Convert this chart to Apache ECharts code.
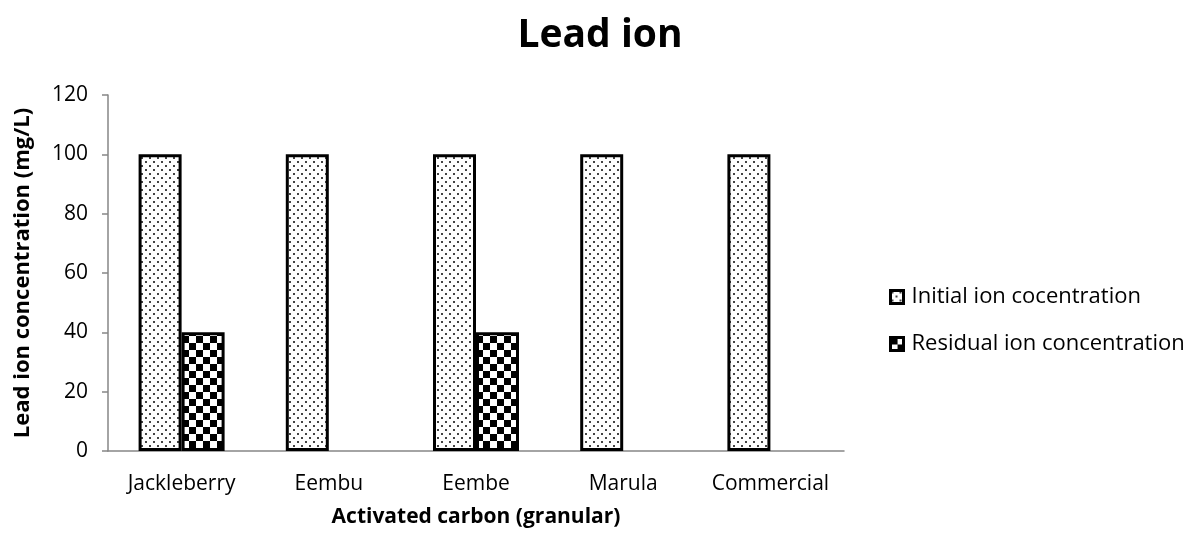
<!DOCTYPE html>
<html>
<head>
<meta charset="utf-8">
<script src="https://cdn.jsdelivr.net/npm/echarts@6/dist/echarts.min.js"></script>
<style>
  html, body { margin: 0; padding: 0; background: #fff; }
  #main { width: 1200px; height: 536px; }
</style>
</head>
<body>
<div id="main"></div>
<script>
var categories = ['Jackleberry', 'Eembu', 'Eembe', 'Marula', 'Commercial'];
var initialIon = [100, 100, 100, 100, 100];
var residualIon = [40, 0, 40, 0, 0];
var yTicks = [0, 20, 40, 60, 80, 100, 120];

// fill patterns like the excel ones
function dotPattern() {
    var c = document.createElement('canvas');
    c.width = 8; c.height = 8;
    var ctx = c.getContext('2d');
    ctx.fillStyle = '#fff';
    ctx.fillRect(0, 0, 8, 8);
    ctx.fillStyle = '#444';
    ctx.fillRect(1, 1, 2, 2);
    ctx.fillRect(5, 5, 2, 2);
    return c;
}
function checkPattern() {
    var c = document.createElement('canvas');
    c.width = 14; c.height = 14;
    var ctx = c.getContext('2d');
    ctx.fillStyle = '#fff';
    ctx.fillRect(0, 0, 14, 14);
    ctx.fillStyle = '#000';
    ctx.fillRect(0, 0, 7, 7);
    ctx.fillRect(7, 7, 7, 7);
    return c;
}

var font = 'Open Sans';
var myChart = echarts.init(document.getElementById('main'));

var option = {
    animation: false,
    title: {
        text: 'Lead ion',
        left: 'center',
        top: 11,
        textStyle: { fontFamily: font, fontSize: 39, fontWeight: 'bold', color: '#000' }
    },
    legend: {
        orient: 'vertical',
        left: 884,
        top: 281,
        itemWidth: 13,
        itemHeight: 13,
        itemGap: 25,
        icon: 'rect',
        itemStyle: { borderWidth: 3, borderColor: '#000' },
        textStyle: { fontFamily: font, fontSize: 22, color: '#000', padding: [0, 0, 0, 3] },
        data: ['Initial ion cocentration', 'Residual ion concentration']
    },
    grid: { left: 108, right: 356, top: 95, bottom: 85 },
    xAxis: {
        type: 'category',
        data: categories,
        name: 'Activated carbon (granular)',
        nameLocation: 'middle',
        nameGap: 56,
        nameTextStyle: { fontFamily: font, fontSize: 21, fontWeight: 'bold', color: '#000' },
        axisLine: { lineStyle: { color: '#868686', width: 1.5 } },
        axisTick: { length: 7, lineStyle: { color: '#868686', width: 1.5 } },
        axisLabel: { interval: 0, fontFamily: font, fontSize: 21, color: '#000', margin: 23 }
    },
    yAxis: {
        type: 'value',
        min: yTicks[0],
        max: yTicks[yTicks.length - 1],
        interval: 20,
        name: 'Lead ion concentration (mg/L)',
        nameLocation: 'middle',
        nameGap: 74,
        nameTextStyle: { fontFamily: font, fontSize: 22, fontWeight: 'bold', color: '#000' },
        axisLine: { show: true, lineStyle: { color: '#868686', width: 1.5 } },
        axisTick: { show: true, length: 6, lineStyle: { color: '#868686', width: 1.5 } },
        axisLabel: { fontFamily: font, fontSize: 21, color: '#000', margin: 20 },
        splitLine: { show: false }
    },
    series: [{
        name: 'Initial ion cocentration',
        type: 'bar',
        barWidth: 43,
        barGap: '0%',
        data: initialIon,
        itemStyle: { color: { image: dotPattern(), repeat: 'repeat' }, borderColor: '#000', borderWidth: 3 }
    }, {
        name: 'Residual ion concentration',
        type: 'bar',
        barWidth: 43,
        data: residualIon.map(function (v) { return v === 0 ? '-' : v; }),
        itemStyle: { color: { image: checkPattern(), repeat: 'repeat' }, borderColor: '#000', borderWidth: 3 }
    }]
};

myChart.setOption(option);
</script>
</body>
</html>
